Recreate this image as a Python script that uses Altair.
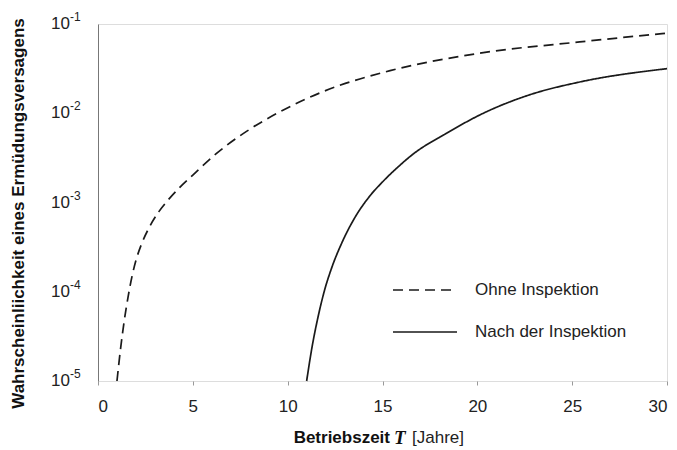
import altair as alt
import pandas as pd

# Failure probability over service time, without inspection (dashed)
ohne_jahre = [1.0, 1.2, 1.4, 1.6, 1.8, 2.0, 2.3, 2.7, 3.2, 3.7, 4.3, 5.0, 6.25, 7.85,
              9.6, 11.9, 15.4, 20.1, 25.4, 30.0]
ohne_p = [1.0e-5, 2.4e-5, 5.0e-5, 9.1e-5, 1.51e-4, 2.24e-4, 3.44e-4, 5.25e-4, 7.85e-4,
          1.07e-3, 1.47e-3, 2.03e-3, 3.55e-3, 6.3e-3, 1.04e-2, 1.76e-2, 3.0e-2, 4.7e-2,
          6.3e-2, 7.9e-2]

# Failure probability after the inspection (solid)
nach_jahre = [11.0, 11.3, 11.6, 11.95, 12.3, 12.9, 13.6, 14.3, 15.0, 15.8, 16.6, 18.4,
              20.1, 22.8, 25.4, 30.0]
nach_p = [1.0e-5, 2.5e-5, 5.2e-5, 1.05e-4, 1.8e-4, 3.7e-4, 7.1e-4, 1.16e-3, 1.7e-3,
          2.48e-3, 3.47e-3, 6.0e-3, 9.5e-3, 1.62e-2, 2.24e-2, 3.16e-2]

serien = ["Ohne Inspektion", "Nach der Inspektion"]
x_ticks = [0, 5, 10, 15, 20, 25, 30]
y_ticks = [1e-5, 1e-4, 1e-3, 1e-2, 1e-1]
y_exponenten = ["-5", "-4", "-3", "-2", "-1"]

df = pd.concat([
    pd.DataFrame({"T": ohne_jahre, "p": ohne_p, "Fall": serien[0]}),
    pd.DataFrame({"T": nach_jahre, "p": nach_p, "Fall": serien[1]}),
])
ticks_df = pd.DataFrame({"p": y_ticks, "exp": y_exponenten})

FONT = "Liberation Sans"
W, H = 569, 357

x_enc = alt.X("T:Q", scale=alt.Scale(domain=[0, 30], nice=False),
              axis=alt.Axis(values=x_ticks, title=None, domain=False, grid=False,
                            tickSize=4, tickColor="#999", labelFontSize=17,
                            labelPadding=13, labelColor="#222", labelFont=FONT))
y_scale = alt.Scale(type="log", domain=[1e-5, 1e-1], nice=False)

lines = alt.Chart(df).mark_line(
    interpolate="monotone", color="#1a1a1a", strokeWidth=1.7
).encode(
    x=x_enc,
    y=alt.Y("p:Q", scale=y_scale,
            axis=alt.Axis(values=y_ticks, grid=False, ticks=False, labels=False,
                          domainColor="#777", domainWidth=1,
                          title="Wahrscheinliichkeit eines Ermüdungsversagens",
                          titleFontSize=17, titleFont=FONT, titleFontWeight="bold",
                          titleColor="#111", titleX=-80, titleY=189, titleAngle=270,
                          titleAlign="center", titleBaseline="middle")),
    strokeDash=alt.StrokeDash(
        "Fall:N",
        scale=alt.Scale(domain=serien, range=[[10, 6], [1, 0]]),
        legend=alt.Legend(title=None, orient="none", legendX=294, legendY=256,
                          symbolType="stroke", symbolSize=4096, symbolStrokeWidth=1.6,
                          symbolStrokeColor="#1a1a1a", clipHeight=20, rowPadding=22,
                          labelFontSize=17, labelFont=FONT, labelColor="#222",
                          labelOffset=17),
    ),
)

# y tick labels as power of ten: base and raised exponent
basis = alt.Chart(ticks_df).mark_text(
    text="10", font=FONT, fontSize=17, align="right", baseline="middle", color="#222"
).encode(x=alt.value(-28), y=alt.Y("p:Q", scale=y_scale))
hoch = alt.Chart(ticks_df).mark_text(
    font=FONT, fontSize=12, align="left", baseline="middle", dy=-7, color="#222"
).encode(x=alt.value(-28), y=alt.Y("p:Q", scale=y_scale), text="exp:N")

one = pd.DataFrame({"s": [0]})
title_y = 414
t1 = alt.Chart(one).mark_text(text="Betriebszeit", font=FONT, fontSize=17, fontWeight="bold",
                              align="right", baseline="middle", color="#111").encode(
    x=alt.value(292), y=alt.value(title_y))
t2 = alt.Chart(one).mark_text(text="T", font="Liberation Serif", fontSize=19, fontWeight="bold",
                              fontStyle="italic", align="left", baseline="middle", color="#111").encode(
    x=alt.value(296), y=alt.value(title_y))
t3 = alt.Chart(one).mark_text(text="[Jahre]", font=FONT, fontSize=17,
                              align="left", baseline="middle", color="#222").encode(
    x=alt.value(314), y=alt.value(title_y))

chart = alt.layer(lines, basis, hoch, t1, t2, t3).properties(
    width=W, height=H,
    autosize=alt.AutoSizeParams(type="none"),
    padding={"left": 98, "top": 24, "right": 10, "bottom": 69},
).configure_view(stroke=None).configure(background="white")

chart.save("out.html", embed_options={"renderer": "svg", "actions": False})
